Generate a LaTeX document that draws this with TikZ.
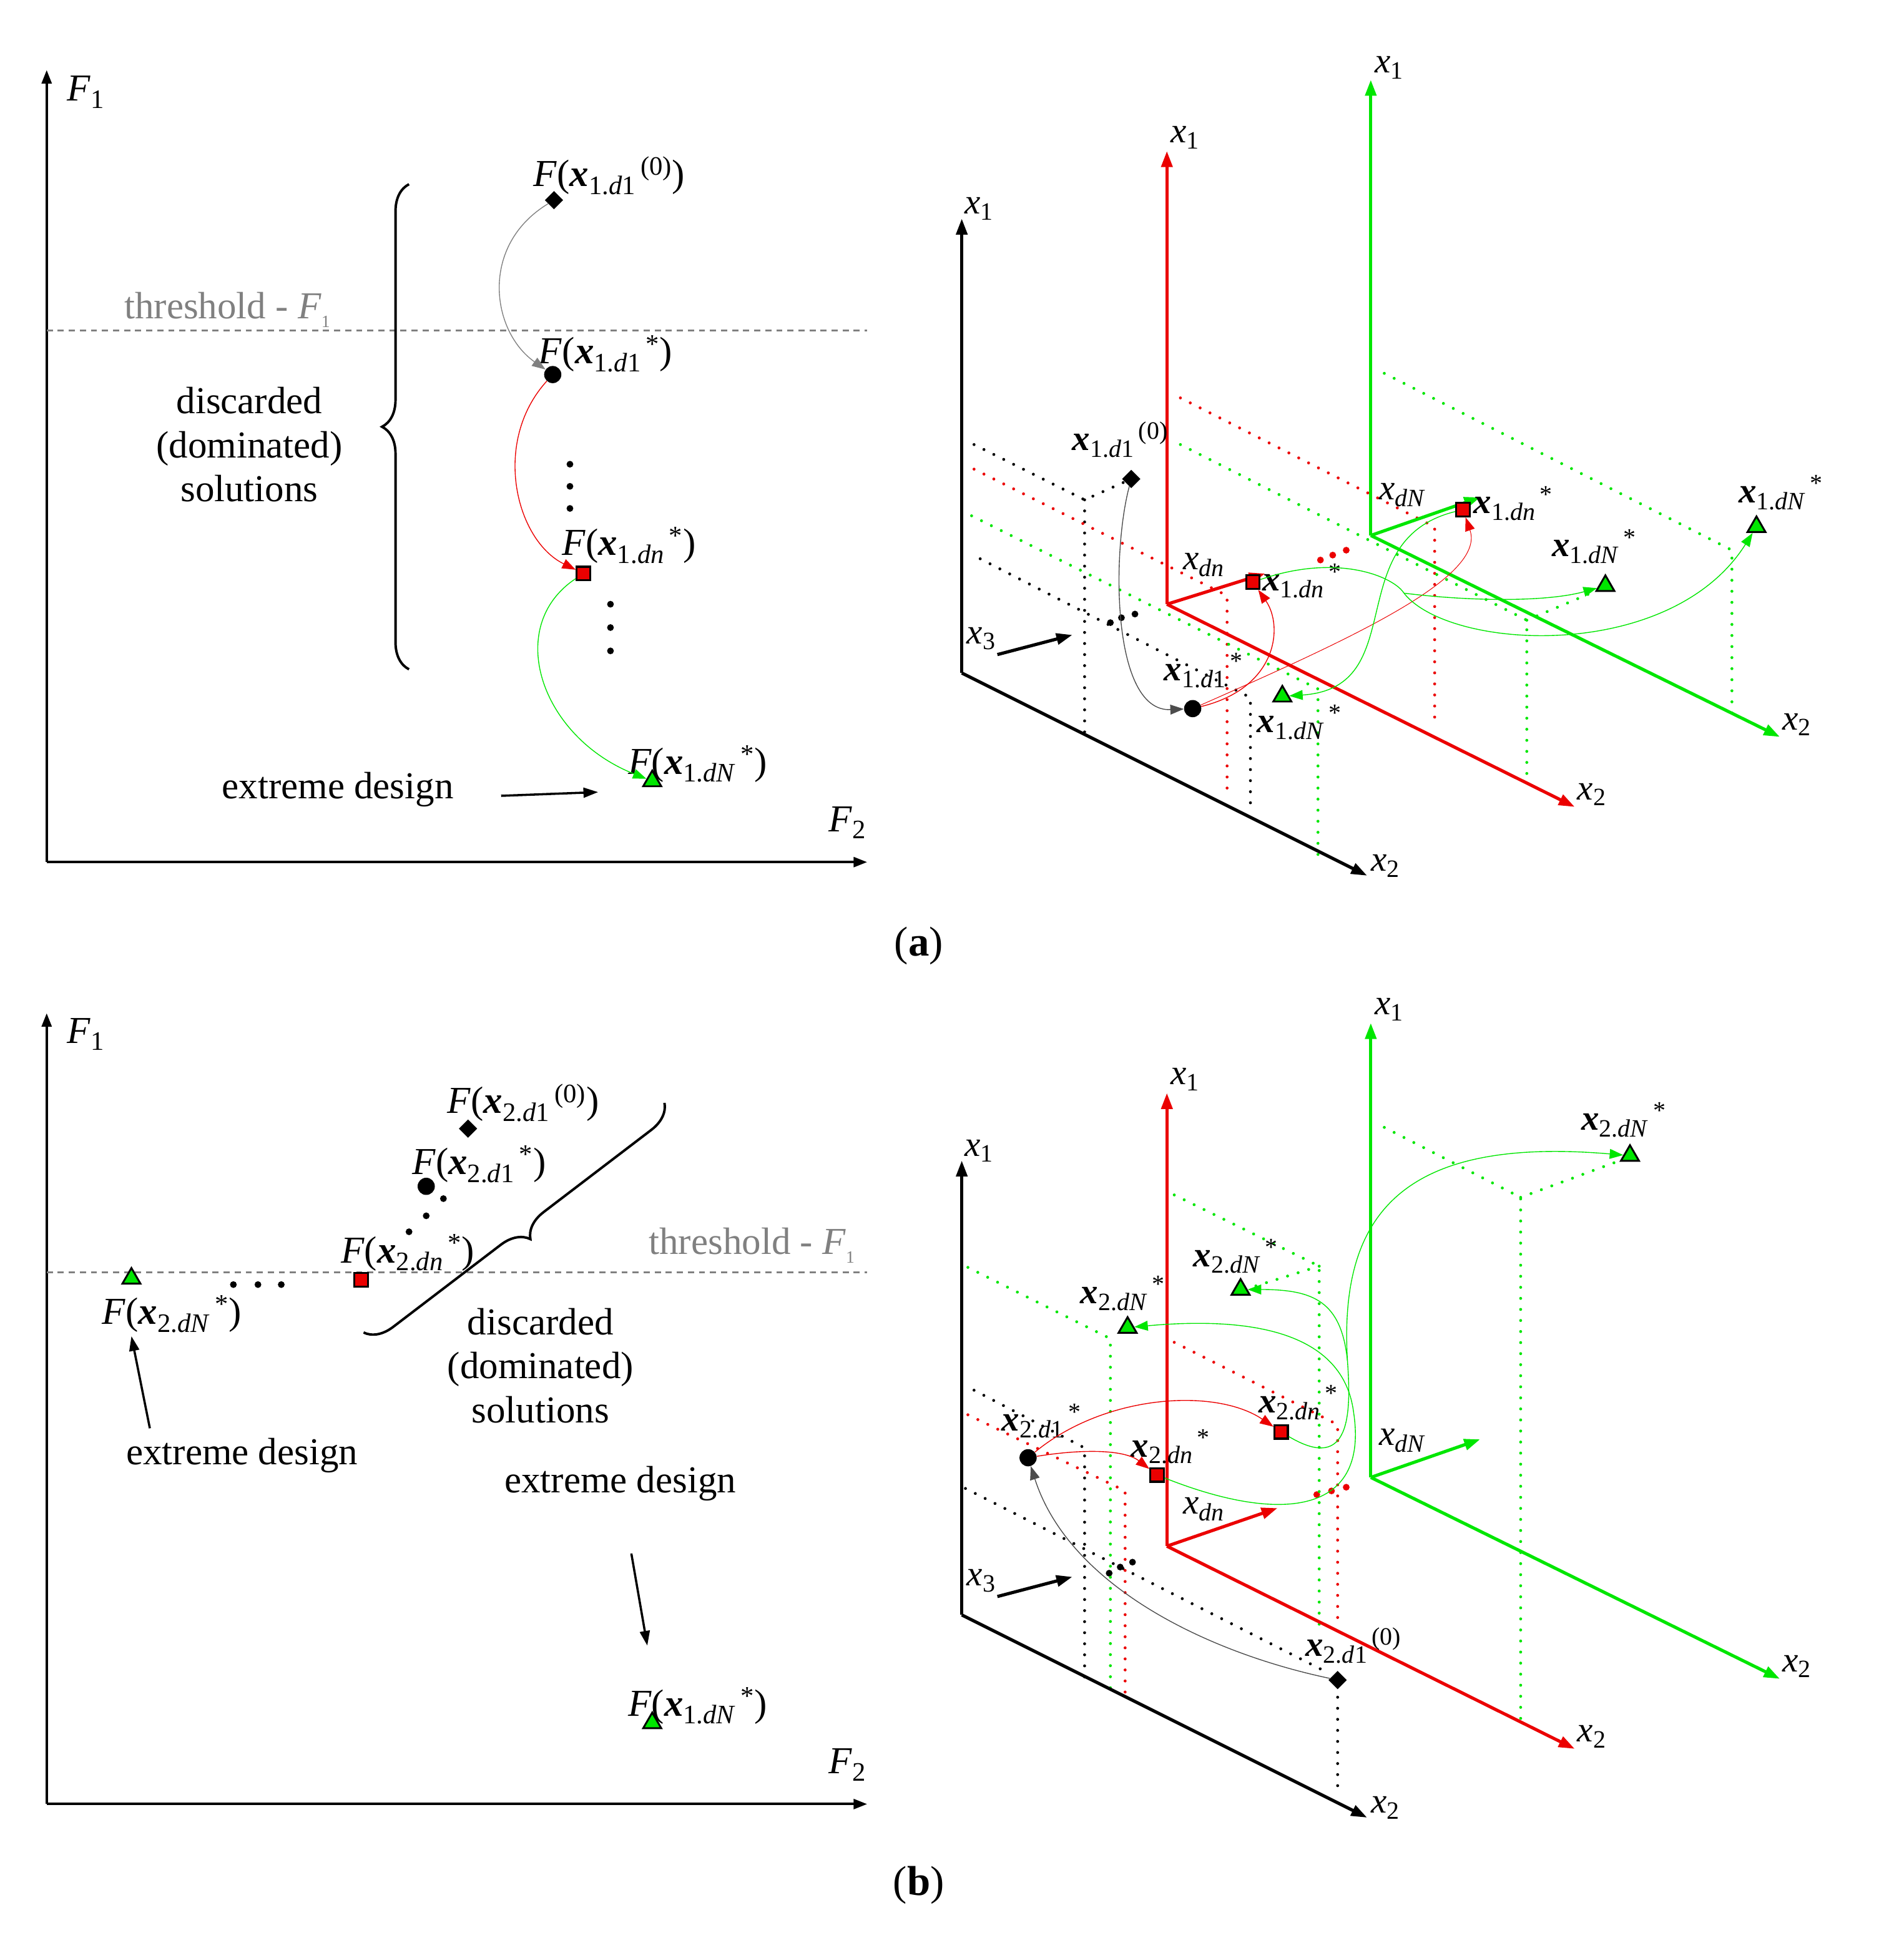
\documentclass[tikz,border=0pt]{standalone}
\usepackage{fontspec}
\setmainfont{Liberation Serif}
\usetikzlibrary{arrows.meta,shapes.geometric,decorations.pathreplacing}
\definecolor{gr}{RGB}{0,230,0}
\definecolor{rd}{RGB}{235,0,0}
\definecolor{tg}{RGB}{128,128,128}
\newcommand{\sxx}[2]{\textbf{\textit{x}}\textsubscript{#1}\textsuperscript{\,#2}}
\newcommand{\Fx}[2]{\textit{F}(\sxx{#1}{#2})}
\newcommand{\ax}[1]{\textit{x}\textsubscript{#1}}
\begin{document}
\begin{tikzpicture}[x=1pt,y=-1pt,
  ax/.style={line width=2pt,-{Triangle[length=11pt,width=8pt]}},
  ax3/.style={line width=2.6pt,-{Triangle[length=13pt,width=9pt]}},
  cur/.style={line width=0.7pt,-{Triangle[length=11pt,width=8pt]}},
  dotl/.style={line width=2.4pt,dash pattern=on 0pt off 9pt,line cap=round},
  dia/.style={diamond,fill=black,inner sep=0pt,minimum size=15pt},
  blk/.style={circle,fill=black,inner sep=0pt,minimum size=14pt},
  rsq/.style={rectangle,fill=rd,draw=black,line width=1.6pt,inner sep=0pt,minimum size=11pt},
  gtri/.style={regular polygon,regular polygon sides=3,fill=gr,draw=black,line width=1.5pt,inner sep=0pt,minimum size=17pt},
  big/.style={font=\fontsize{31}{36}\selectfont,align=center},
  lab/.style={font=\fontsize{31}{34}\selectfont},
  xl/.style={font=\fontsize{29}{30}\selectfont},
  dt/.style={circle,fill=black,inner sep=0pt,minimum size=5.5pt}]
\useasboundingbox (0,0) rectangle (1550,1574);
% ================= (a) left =================
\coordinate (aO) at (38,702); \coordinate (aY) at (38,57); \coordinate (aX) at (706,702);
\draw[ax] (aO) -- (aY); \draw[ax] (aO) -- (aX);
\node[lab] (aF1) at (70,75) {\textit{F}\textsubscript{1}};
\node[lab] (aF2) at (690,670) {\textit{F}\textsubscript{2}};
\draw[tg,line width=1.6pt,dash pattern=on 5pt off 4pt] (38,269) coordinate (at1) -- (706,269) coordinate (at2);
\node[big,text=tg] (ath) at (185,252) {threshold - \textit{F}\raisebox{-0.5ex}{\fontsize{14}{14}\selectfont 1}};
\draw[line width=2pt,decorate,decoration={brace,amplitude=22pt}] (333,545) coordinate (ab1) -- (333,150) coordinate (ab2);
\node[big] (adisc) at (203,362) {discarded\\(dominated)\\solutions};
\node[dia] (ad) at (451,163) {};
\node[lab] at (496,143) {\Fx{1.\textit{d}1}{(0)}};
\node[blk] (ac) at (450,305) {};
\node[lab] at (493,288) {\Fx{1.\textit{d}1}{*}};
\foreach \y in {378,396,414} \node[dt] at (464,\y) {};
\node[rsq] (as) at (475,467) {};
\node[lab] at (512,444) {\Fx{1.\textit{dn}}{*}};
\foreach \y in {492,511,530} \node[dt] at (497,\y) {};
\node[gtri] (at) at (531,636) {};
\node[lab] at (568,622) {\Fx{1.\textit{dN}}{*}};
\node[big] (aext) at (275,643) {extreme design};
\draw[line width=1.8pt,-{Triangle[length=12pt,width=8pt]}] (408,648) coordinate (ae1) -- (487,645) coordinate (ae2);
\draw[cur,tg] (ad) .. controls (390,200) and (400,270) .. (ac);
\draw[cur,rd] (ac) .. controls (400,360) and (420,440) .. (as);
\draw[cur,gr] (as) .. controls (410,510) and (440,600) .. (at);
% ================= (a) right 3D =================
\draw[dotl] (793,362) -- (883,407) -- (921,390);
\draw[dotl] (883,407) -- (883,596);
\draw[dotl] (798,455) -- (1018,568) -- (1018,655);
\foreach \p in {(904,507),(913,503),(924,500)} \node[dt] at \p {};
\draw[dotl,rd] (793,382) -- (999,485) -- (999,649);
\draw[dotl,rd] (961,324) -- (1168,429) -- (1168,590);
\foreach \p in {(1075,456),(1085,452),(1096,448)} \node[dt,fill=rd] at \p {};
\draw[dotl,gr] (791,420) -- (1073,561) -- (1073,696);
\draw[dotl,gr] (961,362) -- (1243,505) -- (1243,637);
\draw[dotl,gr] (1243,505) -- (1307,478);
\draw[dotl,gr] (1127,304) -- (1410,448) -- (1410,581);
\coordinate (bO) at (783,548); \coordinate (rO) at (950,492); \coordinate (gO) at (1116,436);
\draw[ax3] (bO) -- (783,178) coordinate (bY);
\draw[ax3] (bO) -- (1113,713) coordinate (bX);
\draw[ax3] (812,533) coordinate (bz1) -- (873,517) coordinate (bz2);
\node[xl] at (797,170) {\ax{1}}; \node[xl] at (799,520) {\ax{3}}; \node[xl] at (1128,705) {\ax{2}};
\draw[ax3,rd] (rO) -- (950,123) coordinate (rY);
\draw[ax3,rd] (rO) -- (1282,657) coordinate (rX);
\draw[ax3,rd] (rO) -- (1030,467) coordinate (rZ);
\node[xl] at (965,112) {\ax{1}}; \node[xl] at (1296,647) {\ax{2}}; \node[xl] at (980,460) {\ax{\textit{dn}}};
\draw[ax3,gr] (gO) -- (1116,65) coordinate (gY);
\draw[ax3,gr] (gO) -- (1449,600) coordinate (gX);
\draw[ax3,gr] (gO) -- (1205,405) coordinate (gZ);
\node[xl] at (1131,55) {\ax{1}}; \node[xl] at (1463,590) {\ax{2}}; \node[xl] at (1142,403) {\ax{\textit{dN}}};
\node[dia] (pd) at (921,390) {};
\node[xl] at (912,358) {\sxx{1.\textit{d}1}{(0)}};
\node[blk] (pc) at (971,577) {};
\node[xl] at (980,546) {\sxx{1.\textit{d}1}{*}};
\node[rsq] (ps1) at (1020,474) {};
\node[xl] at (1060,473) {\sxx{1.\textit{dn}}{*}};
\node[gtri] (pt1) at (1044,567) {};
\node[xl] at (1058,588) {\sxx{1.\textit{dN}}{*}};
\node[rsq] (ps2) at (1191,415) {};
\node[xl] at (1232,410) {\sxx{1.\textit{dn}}{*}};
\node[gtri] (pt2) at (1307,477) {};
\node[xl] at (1298,445) {\sxx{1.\textit{dN}}{*}};
\node[gtri] (pt3) at (1430,429) {};
\node[xl] at (1450,401) {\sxx{1.\textit{dN}}{*}};
\draw[cur,black!70] (pd) .. controls (905,450) and (905,580) .. (pc);
\draw[cur,rd] (pc) .. controls (1040,560) and (1045,510) .. (ps1);
\draw[cur,rd,line width=0.5pt] (pc) .. controls (1100,520) and (1210,470) .. (ps2);
\coordinate (gm) at (1143,483);
\draw[gr,line width=0.7pt] (ps1) .. controls (1090,450) and (1135,470) .. (gm);
\draw[cur,gr] (gm) .. controls (1200,490) and (1260,490) .. (pt2);
\draw[cur,gr] (gm) .. controls (1180,530) and (1360,540) .. (pt3);
\draw[cur,gr] (ps2) .. controls (1090,440) and (1150,560) .. (pt1);
\node[font=\fontsize{34}{38}\selectfont] (la) at (748,770) {(\textbf{a})};
% ================= (b) left =================
\coordinate (cO) at (38,1469);
\draw[ax] (cO) -- (38,825) coordinate (cY); \draw[ax] (cO) -- (706,1469) coordinate (cX);
\node[lab] at (70,842) {\textit{F}\textsubscript{1}};
\node[lab] at (690,1437) {\textit{F}\textsubscript{2}};
\draw[tg,line width=1.6pt,dash pattern=on 5pt off 4pt] (38,1036) coordinate (ct1) -- (706,1036) coordinate (ct2);
\node[big,text=tg] at (612,1014) {threshold - \textit{F}\raisebox{-0.5ex}{\fontsize{14}{14}\selectfont 1}};
\node[gtri] (ct) at (107,1041) {};
\node[lab] at (140,1070) {\Fx{2.\textit{dN}}{*}};
\node[big] (cext1) at (197,1185) {extreme design};
\draw[line width=1.8pt,-{Triangle[length=12pt,width=8pt]}] (122,1163) coordinate (ce1) -- (107,1088) coordinate (ce2);
\foreach \x in {190,210,229} \node[dt] at (\x,1046) {};
\node[rsq] (cs) at (294,1042) {};
\node[lab] at (332,1020) {\Fx{2.\textit{dn}}{*}};
\foreach \p in {(333,1003),(347,990),(361,976)} \node[dt] at \p {};
\node[blk] (cc) at (347,966) {};
\node[lab] at (390,948) {\Fx{2.\textit{d}1}{*}};
\node[dia] (cd) at (381,919) {};
\node[lab] at (426,898) {\Fx{2.\textit{d}1}{(0)}};
\draw[line width=2pt,decorate,decoration={brace,mirror,amplitude=22pt}] (296,1085) coordinate (cb1) -- (541,898) coordinate (cb2);
\node[big] at (440,1112) {discarded\\(dominated)\\solutions};
\node[big] (cext2) at (505,1208) {extreme design};
\draw[line width=1.8pt,-{Triangle[length=12pt,width=8pt]}] (514,1265) coordinate (cf1) -- (527,1340) coordinate (cf2);
\node[gtri] (ct2b) at (531,1403) {};
\node[lab] at (568,1389) {\Fx{1.\textit{dN}}{*}};
% ================= (b) right 3D =================
\draw[dotl] (793,1132) -- (883,1179) -- (883,1367);
\draw[dotl] (786,1212) -- (1079,1361);
\foreach \p in {(903,1281),(912,1276),(922,1272)} \node[dt] at \p {};
\draw[dotl] (1089,1382) -- (1089,1462);
\draw[dotl,rd] (788,1152) -- (916,1214) -- (916,1378);
\draw[dotl,rd] (956,1093) -- (1089,1160) -- (1089,1320);
\foreach \p in {(1072,1217),(1084,1214),(1096,1211)} \node[dt,fill=rd] at \p {};
\draw[dotl,gr] (788,1032) -- (904,1090) -- (904,1382);
\draw[dotl,gr] (956,973) -- (1074,1031) -- (1074,1324);
\draw[dotl,gr] (1074,1031) -- (1010,1051);
\draw[dotl,gr] (1127,918) -- (1238,975) -- (1238,1406);
\draw[dotl,gr] (1238,975) -- (1327,942);
\coordinate (dO) at (783,1315); \coordinate (eO) at (950,1259); \coordinate (fO) at (1116,1203);
\draw[ax3] (dO) -- (783,945) coordinate (dY);
\draw[ax3] (dO) -- (1113,1480) coordinate (dX);
\draw[ax3] (812,1300) coordinate (dz1) -- (873,1284) coordinate (dz2);
\node[xl] at (797,937) {\ax{1}}; \node[xl] at (799,1287) {\ax{3}}; \node[xl] at (1128,1472) {\ax{2}};
\draw[ax3,rd] (eO) -- (950,890) coordinate (eY);
\draw[ax3,rd] (eO) -- (1282,1424) coordinate (eX);
\draw[ax3,rd] (eO) -- (1040,1228) coordinate (eZ);
\node[xl] at (965,879) {\ax{1}}; \node[xl] at (1296,1414) {\ax{2}}; \node[xl] at (980,1229) {\ax{\textit{dn}}};
\draw[ax3,gr] (fO) -- (1116,833) coordinate (fY);
\draw[ax3,gr] (fO) -- (1449,1367) coordinate (fX);
\draw[ax3,gr] (fO) -- (1205,1172) coordinate (fZ);
\node[xl] at (1131,822) {\ax{1}}; \node[xl] at (1463,1357) {\ax{2}}; \node[xl] at (1142,1173) {\ax{\textit{dN}}};
\node[blk] (qc) at (837,1187) {};
\node[xl] at (848,1157) {\sxx{2.\textit{d}1}{*}};
\node[rsq] (qs1) at (942,1201) {};
\node[xl] at (953,1178) {\sxx{2.\textit{dn}}{*}};
\node[rsq] (qs2) at (1043,1166) {};
\node[xl] at (1057,1142) {\sxx{2.\textit{dn}}{*}};
\node[gtri] (qt1) at (918,1081) {};
\node[xl] at (914,1053) {\sxx{2.\textit{dN}}{*}};
\node[gtri] (qt2) at (1010,1050) {};
\node[xl] at (1006,1023) {\sxx{2.\textit{dN}}{*}};
\node[gtri] (qt3) at (1327,941) {};
\node[xl] at (1322,912) {\sxx{2.\textit{dN}}{*}};
\node[dia] (qd) at (1089,1368) {};
\node[xl] at (1102,1340) {\sxx{2.\textit{d}1}{(0)}};
\draw[cur,black!70] (qd) .. controls (980,1345) and (870,1290) .. (qc);
\draw[cur,rd] (qc) .. controls (900,1135) and (990,1130) .. (qs2);
\draw[cur,rd] (qc) .. controls (880,1180) and (915,1180) .. (qs1);
\coordinate (gq) at (1097,1108);
\draw[cur,gr] (qs1) .. controls (1040,1240) and (1115,1235) .. (1102,1150) .. controls (1095,1095) and (1040,1070) .. (qt1);
\draw[cur,gr] (qs2) .. controls (1100,1200) and (1100,1150) .. (gq) .. controls (1092,1060) and (1070,1050) .. (qt2);
\draw[cur,gr] (gq) .. controls (1090,990) and (1140,925) .. (qt3);
\node[font=\fontsize{34}{38}\selectfont] (lb) at (748,1535) {(\textbf{b})};
\end{tikzpicture}
\end{document}
